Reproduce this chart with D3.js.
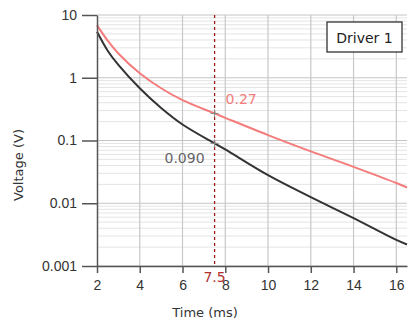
<!DOCTYPE html>
<html>
<head>
<meta charset="utf-8">
<script src="https://cdn.jsdelivr.net/npm/d3@7"></script>
<style>
  body { margin: 0; background: #fff; }
  svg { display: block; font-family: "DejaVu Sans", Verdana, sans-serif; }
</style>
</head>
<body>
<svg id="chart" width="408" height="324"></svg>
<script>
// data
var times = [2, 2.5, 3, 4, 5, 6, 7.5, 8, 10, 12, 14, 16, 16.5]
var driverHigh = [6.9, 3.9, 2.44, 1.18, 0.68, 0.44, 0.27, 0.23, 0.122, 0.067, 0.038, 0.021, 0.0178]
var driverLow = [5.4, 2.7, 1.6, 0.68, 0.33, 0.18, 0.090, 0.072, 0.028, 0.0125, 0.0058, 0.0026, 0.0022]
var xTicks = [2, 4, 6, 8, 10, 12, 14, 16]
var yTicks = [10, 1, 0.1, 0.01, 0.001]
var cursorTime = 7.5
var cursorHigh = "0.27"
var cursorLow = "0.090"
var legendText = "Driver 1"

const margin = {top: 15, right: 1, bottom: 58, left: 97}
const width = 408, height = 324
const innerWidth = width - margin.left - margin.right
const innerHeight = height - margin.top - margin.bottom

const svg = d3.select('#chart')
const g = svg.append('g').attr('transform', `translate(${margin.left},${margin.top})`)

const x = d3.scaleLinear().domain([2, 16.5]).range([0, innerWidth])
const y = d3.scaleLog().domain([0.001, 10]).range([innerHeight, 0])

//minor horizontal grid (2..9 each decade)
var minor = []
for (var d = 0.001; d < 10; d *= 10) {
  for (var k = 2; k <= 9; k++) minor.push(+(d * k).toPrecision(3))
}
g.append('g').selectAll('line').data(minor).join('line')
  .attr('x1', 0).attr('x2', innerWidth)
  .attr('y1', d => y(d)).attr('y2', d => y(d))
  .attr('stroke', '#e4e4e4').attr('stroke-width', 1)

//major grids
g.append('g').selectAll('line').data(yTicks).join('line')
  .attr('x1', 0).attr('x2', innerWidth)
  .attr('y1', d => y(d)).attr('y2', d => y(d))
  .attr('stroke', '#c4c4c4').attr('stroke-width', 1)
g.append('g').selectAll('line').data(xTicks.slice(1)).join('line')
  .attr('x1', d => x(d)).attr('x2', d => x(d))
  .attr('y1', 0).attr('y2', innerHeight)
  .attr('stroke', '#c8c8c8').attr('stroke-width', 1.2)

//legend box
svg.append('rect').attr('x', 327).attr('y', 22).attr('width', 75).attr('height', 30)
  .attr('fill', '#fff').attr('stroke', '#333').attr('stroke-width', 1.3)
svg.append('text').attr('x', 364.5).attr('y', 42.5).attr('text-anchor', 'middle')
  .style('font-size', '14px').attr('fill', '#222').text(legendText)

//curves
const line = d3.line().curve(d3.curveCatmullRom.alpha(0.5))
g.append('path')
  .datum(times.map((t, i) => [x(t), y(driverHigh[i])]))
  .attr('d', line).attr('fill', 'none').attr('stroke', '#f47c7c').attr('stroke-width', 2)
g.append('path')
  .datum(times.map((t, i) => [x(t), y(driverLow[i])]))
  .attr('d', line).attr('fill', 'none').attr('stroke', '#333').attr('stroke-width', 2)

//cursor
g.append('line').attr('x1', x(cursorTime)).attr('x2', x(cursorTime))
  .attr('y1', 0).attr('y2', innerHeight)
  .attr('stroke', '#9b1c1c').attr('stroke-width', 1.3).attr('stroke-dasharray', '3,3')

var crossVals = [+cursorHigh, +cursorLow]
crossVals.forEach(function(v) {
  g.append('path')
    .attr('d', `M${x(cursorTime) - 4},${y(v)}h8M${x(cursorTime)},${y(v) - 4}v8`)
    .attr('stroke', '#888').attr('stroke-width', 1)
})

g.append('text').attr('x', x(cursorTime) + 11).attr('y', y(+cursorHigh) - 9)
  .style('font-size', '14px').attr('fill', '#f47c7c').text(cursorHigh)
g.append('text').attr('x', x(cursorTime) - 10).attr('y', y(+cursorLow) + 20)
  .attr('text-anchor', 'end')
  .style('font-size', '14px').attr('fill', '#666').text(cursorLow)

//axes
const xAxis = d3.axisBottom(x).tickValues(xTicks).tickFormat(d3.format('d'))
  .tickSize(7).tickPadding(7).tickSizeOuter(0)
const xg = g.append('g').attr('transform', `translate(0,${innerHeight})`).call(xAxis)
xg.selectAll('text').style('font-size', '14px').attr('fill', '#333')

const yAxis = d3.axisLeft(y).tickValues(yTicks).tickFormat(d => String(d))
  .tickSize(15).tickPadding(5).tickSizeOuter(0)
const yg = g.append('g').call(yAxis)
yg.selectAll('text').style('font-size', '14px').attr('fill', '#333')

;[xg, yg].forEach(function(a) {
  a.select('.domain').attr('stroke', '#555').attr('stroke-width', 1.5)
  a.selectAll('.tick line').attr('stroke', '#555').attr('stroke-width', 1.5)
})

g.append('text').attr('x', x(cursorTime)).attr('y', innerHeight + 16)
  .attr('text-anchor', 'middle').style('font-size', '14px').attr('fill', '#b03030')
  .text(String(cursorTime))

//axis labels
svg.append('text').attr('x', 205).attr('y', 317).attr('text-anchor', 'middle')
  .style('font-size', '13px').attr('fill', '#333').text('Time (ms)')
svg.append('text').attr('transform', 'rotate(-90)')
  .attr('x', -165).attr('y', 23).attr('text-anchor', 'middle')
  .style('font-size', '13px').attr('fill', '#333').text('Voltage (V)')
</script>
</body>
</html>
